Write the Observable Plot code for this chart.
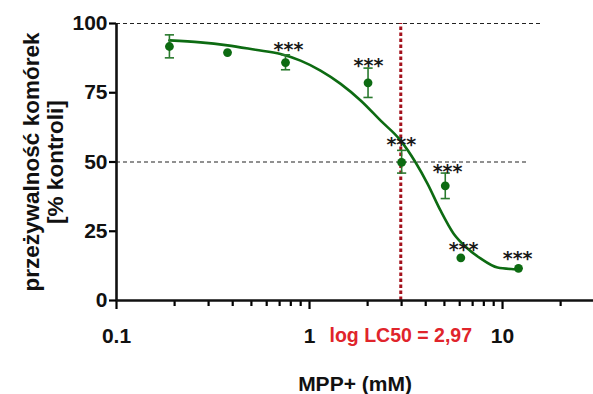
<!DOCTYPE html>
<html>
<head>
<meta charset="utf-8">
<script src="https://cdn.jsdelivr.net/npm/d3@7"></script>
<script src="https://cdn.jsdelivr.net/npm/@observablehq/plot@0.6"></script>
<style>
  html, body { margin: 0; padding: 0; background: #fff; }
  #chart { width: 593px; height: 394px; }
</style>
</head>
<body>
<div id="chart"></div>
<script>
// ---- data ----
const concentration = [0.188, 0.376, 0.751, 2.01, 3.0, 5.05, 6.08, 12.1];   // MPP+ (mM)
const viability     = [91.7, 89.5, 85.9, 78.6, 49.9, 41.4, 15.4, 11.6];     // % kontroli
const errLow        = [87.6, null, 83.3, 73.3, 46.0, 36.8, null, null];
const errHigh       = [95.9, null, 88.7, 83.9, 54.2, 46.0, null, null];

const starX     = [0.778, 2.02, 2.99, 5.19, 6.28, 11.97];
const starY     = [92.1, 86.4, 57.8, 48.4, 19.9, 17.0];
const starLabel = ["***", "***", "***", "***", "***", "***"];

// fitted curve
const curveX = [0.188, 0.272, 0.376, 0.525, 0.708, 0.898, 1.14, 1.45, 1.84, 2.33, 2.96, 3.54, 4.09, 4.77, 5.57, 6.59, 7.69, 9.42, 11.4, 12.1];
const curveY = [93.9, 93.2, 92.1, 90.5, 89.0, 86.6, 83.0, 78.2, 72.2, 65.0, 57.8, 49.9, 42.1, 32.5, 24.2, 18.8, 15.2, 11.9, 11.3, 11.2];

const lc50 = 2.97;
const lc50Label = "log LC50 = 2,97";

const refLevels = [100, 50];
const refEnds   = [16.3, 13.6];

const yTicks = [0, 25, 50, 75, 100];
const xTicks = [0.1, 1, 10];
const xTickLabels = ["0.1", "1", "10"];
const xMinorTicks = [0.2, 0.3, 0.4, 0.5, 0.6, 0.7, 0.8, 0.9, 2, 3, 4, 5, 6, 7, 8, 9, 20];

const xTitle = "MPP+ (mM)";
const yTitle = "przeżywalność komórek\n[% kontroli]";

// ---- tables ----
const points = concentration.map((x, i) => ({x, y: viability[i], lo: errLow[i], hi: errHigh[i]}));
const bars = points.filter(d => d.lo != null);
const curve = curveX.map((x, i) => ({x, y: curveY[i]}));
const stars = starX.map((x, i) => ({x, y: starY[i], t: starLabel[i]}));
const refs = refLevels.map((y, i) => ({y, x2: refEnds[i]}));

const green = "#0d6b12";
const capSymbol = { draw(ctx, size) { const w = 4.6; ctx.moveTo(-w, 0); ctx.lineTo(w, 0); } };
const FONT = "Liberation Sans, Arial, sans-serif";

const chart = Plot.plot({
  width: 593,
  height: 394,
  marginLeft: 116,
  marginRight: 0,
  marginTop: 23,
  marginBottom: 94,
  style: { fontFamily: FONT, background: "#fff" },
  x: { type: "log", domain: [0.1, 29.6] },
  y: { domain: [0, 100] },
  marks: [
    // reference dashed lines
    Plot.ruleY(refs, { y: "y", x1: 0.1, x2: "x2", stroke: "#222", strokeWidth: 1.2, strokeDasharray: "4,3" }),
    // LC50 line
    Plot.ruleX([lc50], { y1: 0, y2: 100, stroke: "#a3111c", strokeWidth: 3, strokeDasharray: "3.5,2.5" }),
    // axes
    Plot.axisY({ ticks: yTicks, tickSize: 7, tickPadding: 2, fontSize: 21, fontWeight: "bold", fill: "#111", label: null, strokeWidth: 2.2 }),
    Plot.axisX({ ticks: xTicks, tickFormat: (d) => xTickLabels[xTicks.indexOf(d)], tickSize: 9, tickPadding: 19, fontSize: 21, fontWeight: "bold", fill: "#111", label: null, strokeWidth: 2.2 }),
    Plot.axisX({ ticks: xMinorTicks, tickFormat: () => "", tickSize: 6, label: null, strokeWidth: 2.2 }),
    Plot.ruleY([0], { stroke: "#111", strokeWidth: 2.6 }),
    Plot.ruleX([0.1], { stroke: "#111", strokeWidth: 2.6 }),
    // curve
    Plot.line(curve, { x: "x", y: "y", curve: "monotone-x", stroke: green, strokeWidth: 2.6 }),
    // error bars
    Plot.ruleX(bars, { x: "x", y1: "lo", y2: "hi", stroke: "#2a7a2e", strokeWidth: 1.6 }),
    Plot.dot(bars, { x: "x", y: "lo", symbol: capSymbol, r: 5, stroke: "#2a7a2e", strokeWidth: 1.6, fill: "none" }),
    Plot.dot(bars, { x: "x", y: "hi", symbol: capSymbol, r: 5, stroke: "#2a7a2e", strokeWidth: 1.6, fill: "none" }),
    // points
    Plot.dot(points, { x: "x", y: "y", r: 4.4, fill: green, stroke: "none" }),
    // significance stars
    Plot.text(stars, { x: "x", y: "y", text: "t", fontSize: 19, dy: 5, fill: "#1a1a1a", fontFamily: "DejaVu Sans", fontWeight: "bold" }),
    // LC50 label
    Plot.text([lc50Label], { x: lc50, y: 0, dy: 35, fontSize: 19.5, fontWeight: "bold", fill: "#e0242b", lineAnchor: "middle" }),
    // x title
    Plot.text([xTitle], { frameAnchor: "bottom", dy: 84, fontSize: 21, fontWeight: "bold", fill: "#111", lineAnchor: "middle" }),
    // y title
    Plot.text([yTitle], { frameAnchor: "left", dx: -73, rotate: -90, textAnchor: "middle", fontSize: 22.5, fontWeight: "bold", fill: "#111", lineAnchor: "middle", lineHeight: 1.08 })
  ]
});

document.getElementById("chart").appendChild(chart);
</script>
</body>
</html>
